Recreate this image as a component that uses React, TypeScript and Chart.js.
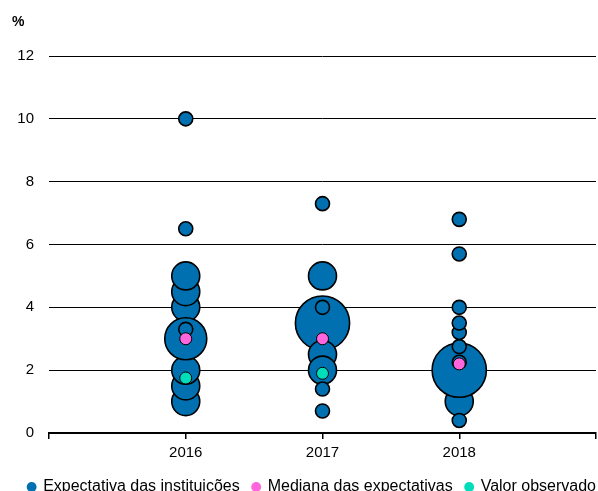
import React, { useEffect, useRef } from 'react';
import { Chart, registerables } from 'chart.js';
Chart.register(...registerables);

const xTickYears = [2015, 2016, 2017, 2018, 2019];
const labeledYears = [2016, 2017, 2018];
const yTicks = [0, 2, 4, 6, 8, 10, 12];

// Expectations of institutions: year, value (%), number of institutions (bubble size)
const instYears = [
  2016, 2016, 2016, 2016, 2016, 2016, 2016, 2016, 2016, 2016,
  2017, 2017, 2017, 2017, 2017, 2017, 2017, 2017,
  2018, 2018, 2018, 2018, 2018, 2018, 2018, 2018, 2018, 2018,
];
const instValues = [
  1.0, 1.5, 2.0, 4.0, 4.5, 5.0, 3.0, 3.3, 6.5, 10.0,
  5.0, 3.5, 2.5, 2.0, 4.0, 1.4, 0.7, 7.3,
  1.0, 2.0, 0.4, 2.25, 2.75, 3.2, 3.5, 4.0, 5.7, 6.8,
];
const instCounts = [
  4, 4, 4, 4, 4, 4, 9, 1, 1, 1,
  4, 15, 4, 4, 1, 1, 1, 1,
  4, 15, 1, 1, 1, 1, 1, 1, 1, 1,
];

const medianYears = [2016, 2017, 2018];
const medianValues = [3.0, 3.0, 2.2];

const observedYears = [2016, 2017];
const observedValues = [1.75, 1.9];

const seriesNames = ['Expectativa das instituições', 'Mediana das expectativas', 'Valor observado'];
const BLUE = '#0070B0';
const PINK = '#FF66DD';
const TEAL = '#00DDBB';

export default function App() {
  const ref = useRef<HTMLCanvasElement>(null);
  useEffect(() => {
    document.body.style.margin = '0';
    const font = '"Liberation Sans", Arial, sans-serif';
    Chart.defaults.font.family = font;
    Chart.defaults.color = '#000';
    const percentPlugin = {
      id: 'percentLabel',
      afterLayout(chart: any) {
        if (chart.legend) chart.legend.right += 13;
      },
      afterDraw(chart: any) {
        const ctx = chart.ctx;
        ctx.save();
        ctx.font = 'bold 14px ' + font;
        ctx.fillStyle = '#000';
        ctx.textBaseline = 'middle';
        ctx.textAlign = 'left';
        ctx.fillText('%', 12, 22);
        ctx.restore();
      },
    };
    const chart = new Chart(ref.current!, {
      type: 'bubble',
      data: {
        datasets: [
          {
            label: seriesNames[0],
            data: instValues.map((v, i) => ({ x: instYears[i], y: v, r: 7 * Math.sqrt(instCounts[i]) })),
            backgroundColor: BLUE,
            borderColor: '#000',
            borderWidth: 1.6,
            order: 3,
          },
          {
            label: seriesNames[1],
            data: medianValues.map((v, i) => ({ x: medianYears[i], y: v, r: 6 })),
            backgroundColor: PINK,
            borderColor: '#000',
            borderWidth: 1,
            order: 2,
          },
          {
            label: seriesNames[2],
            data: observedValues.map((v, i) => ({ x: observedYears[i], y: v, r: 6 })),
            backgroundColor: TEAL,
            borderColor: '#000',
            borderWidth: 1,
            order: 1,
          },
        ],
      },
      options: {
        animation: false,
        responsive: false,
        clip: false as any,
        layout: { autoPadding: false, padding: { top: 56, right: 2, left: 0, bottom: 0 } },
        scales: {
          x: {
            type: 'linear',
            min: xTickYears[0],
            max: xTickYears[xTickYears.length - 1],
            afterBuildTicks: (s: any) => { s.ticks = xTickYears.map((v) => ({ value: v })); },
            afterFit: (s: any) => { s.paddingLeft = 0; s.paddingRight = 0; s.height -= 1; },
            ticks: {
              autoSkip: false,
              padding: 5,
              font: { size: 15 },
              color: '#000',
              callback: (v: any) => (labeledYears.includes(Number(v)) ? String(v) : ''),
              maxRotation: 0,
            },
            grid: { drawOnChartArea: false, drawTicks: true, tickLength: 6, color: '#000', lineWidth: 1.5 },
            border: { display: true, color: '#000', width: 2 },
          },
          y: {
            min: 0,
            max: 12,
            afterBuildTicks: (s: any) => { s.ticks = yTicks.map((v) => ({ value: v })); },
            afterFit: (s: any) => { s.width = 49; },
            ticks: { padding: 15, font: { size: 15 }, color: '#000' },
            grid: { drawTicks: false, color: (c: any) => (c.tick && c.tick.value === 0 ? 'rgba(0,0,0,0)' : '#000'), lineWidth: 1 },
            border: { display: false },
          },
        },
        plugins: {
          tooltip: { enabled: false },
          legend: {
            position: 'bottom',
            align: 'end',
            labels: {
              usePointStyle: true,
              pointStyle: 'circle',
              boxHeight: 7,
              boxWidth: 7,
              padding: 13,
              font: { size: 16 },
              color: '#000',
              sort: (a: any, b: any) => a.datasetIndex - b.datasetIndex,
              generateLabels: (c: any) =>
                Chart.defaults.plugins.legend.labels.generateLabels(c).map((l: any) => ({
                  ...l,
                  lineWidth: 0,
                  strokeStyle: 'rgba(0,0,0,0)',
                })),
            },
          },
        },
      },
      plugins: [percentPlugin],
    } as any);
    return () => chart.destroy();
  }, []);
  return (
    <div style={{ width: 598, height: 491, overflow: 'hidden' }}>
      <canvas ref={ref} width={598} height={505} style={{ display: 'block' }} />
    </div>
  );
}
